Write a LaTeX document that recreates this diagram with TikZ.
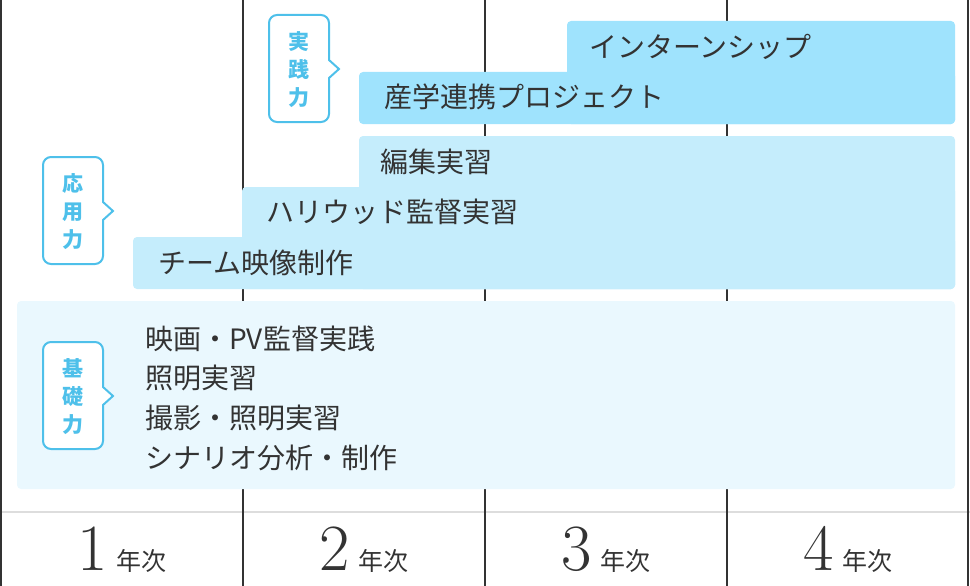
\documentclass[tikz,border=0pt]{standalone}
\usepackage{fontspec}
\newfontfamily\jpfont{Noto Sans CJK JP}
\usetikzlibrary{positioning}

\definecolor{inkgray}{HTML}{333333}
\definecolor{rulegray}{HTML}{DDDDDD}
\definecolor{skyline}{HTML}{4EC0EA}
\definecolor{kisofill}{HTML}{EAF8FE}
\definecolor{oyofill}{HTML}{C5EDFC}
\definecolor{jissenfill}{HTML}{9FE3FD}

\tikzset{
	gridline/.style={draw=inkgray, line width=2pt},
	block/.style={rounded corners=4pt},
	course/.style={anchor=west, inner sep=0pt, text=inkgray, font=\jpfont\fontsize{28}{28}\selectfont},
	tagline/.style={draw=skyline, line width=2pt, fill=white},
	tagtext/.style={inner sep=0pt, align=center, text=skyline, font=\jpfont\bfseries\fontsize{21}{28}\selectfont},
	yearlabel/.style={anchor=base, inner sep=0pt, text=inkgray, font=\fontsize{66}{66}\selectfont}
}

% name, left, top, text
\newcommand{\skilltag}[4]{%
	\draw[tagline] (#2+60,#3+45) [rounded corners=8pt] -- (#2+60,#3) -- (#2,#3) -- (#2,#3+107) -- (#2+60,#3+107) [sharp corners] -- (#2+60,#3+63) -- (#2+70,#3+54) -- cycle;
	\node[tagtext] (#1) at (#2+30,#3+55) {#4};
}

\begin{document}
\begin{tikzpicture}[x=1pt, y=-1pt]
	\useasboundingbox (0,0) rectangle (970,586);
	
	\draw[rulegray, line width=2pt] (0,512) -- (970,512);
	\draw[gridline] (1,0) -- (1,586);
	\draw[gridline] (243,0) -- (243,586);
	\draw[gridline] (485,0) -- (485,586);
	\draw[gridline] (727,0) -- (727,586);
	\draw[gridline] (968,0) -- (968,586);
	
	% blocks
	\fill[kisofill, block] (17,301) rectangle (955,489);
	\fill[oyofill, block] (133,237) rectangle (955,289);
	\fill[oyofill, block] (242,187) rectangle (955,289);
	\fill[oyofill, block] (359,136) rectangle (955,289);
	\fill[jissenfill, block] (567,21) rectangle (955,124);
	\fill[jissenfill, block] (359,72) rectangle (955,124);
	
	\node[course] (intern) at (589,47) {インターンシップ};
	\node[course] (sangaku) at (384,97) {産学連携プロジェクト};
	\node[course] (henshu) at (380,162) {編集実習};
	\node[course] (hollywood) at (266,212) {ハリウッド監督実習};
	\node[course] (team) at (158,263) {チーム映像制作};
	
	\node[course] (kiso1) at (145,339) {映画・PV監督実践};
	\node[course] (kiso2) at (145,378) {照明実習};
	\node[course] (kiso3) at (145,418) {撮影・照明実習};
	\node[course] (kiso4) at (145,458) {シナリオ分析・制作};
	
	\skilltag{jissen}{269}{15}{実\\践\\力}
	\skilltag{oyo}{43}{157}{応\\用\\力}
	\skilltag{kiso}{43}{342}{基\\礎\\力}
	
	\node[yearlabel] (year1) at (122,570) {1\hspace{8pt}{\jpfont\fontsize{25}{25}\selectfont 年次}};
	\node[yearlabel] (year2) at (364,570) {2\hspace{8pt}{\jpfont\fontsize{25}{25}\selectfont 年次}};
	\node[yearlabel] (year3) at (606,570) {3\hspace{8pt}{\jpfont\fontsize{25}{25}\selectfont 年次}};
	\node[yearlabel] (year4) at (848,570) {4\hspace{8pt}{\jpfont\fontsize{25}{25}\selectfont 年次}};
\end{tikzpicture}
\end{document}
